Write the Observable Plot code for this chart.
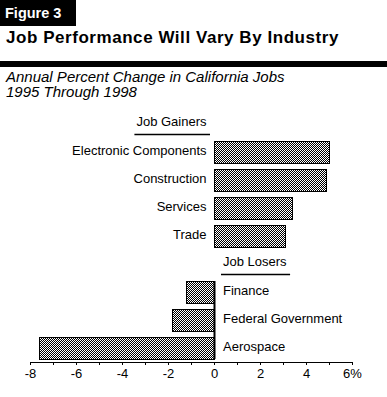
<!DOCTYPE html>
<html>
<head>
<meta charset="utf-8">
<script src="https://cdn.jsdelivr.net/npm/d3@7"></script>
<script src="https://cdn.jsdelivr.net/npm/@observablehq/plot@0.6"></script>
<style>
  html, body { margin: 0; padding: 0; background: #fff; }
  body { width: 387px; height: 397px; overflow: hidden; font-family: "Liberation Sans", Arial, sans-serif; color: #000; }
  #head { position: relative; width: 387px; height: 105px; }
  #fig { position: absolute; left: 0; top: 0; width: 71px; height: 26px; padding-left: 5px; background: #000; color: #fff;
         font-weight: bold; font-size: 14.5px; line-height: 26px; }
  #title { position: absolute; left: 6px; top: 28px; font-weight: bold; font-size: 17px; line-height: 20px; letter-spacing: 0.55px; white-space: nowrap; }
  #bar { position: absolute; left: 0; top: 61px; width: 387px; height: 6px; background: #000; }
  #sub { position: absolute; left: 6px; top: 68.5px; font-style: italic; font-size: 15px; line-height: 15.6px; white-space: nowrap; }
  #chart svg { display: block; }
</style>
</head>
<body>
<div id="head">
  <div id="fig">Figure 3</div>
  <div id="title">Job Performance Will Vary By Industry</div>
  <div id="bar"></div>
  <div id="sub">Annual Percent Change in California Jobs<br>1995 Through 1998</div>
</div>
<div id="chart"></div>
<script>
// ---- data ----
const gainerNames = ["Electronic Components", "Construction", "Services", "Trade"];
const gainerValues = [5.0, 4.9, 3.4, 3.1];
const loserNames = ["Finance", "Federal Government", "Aerospace"];
const loserValues = [-1.2, -1.8, -7.6];
const groupHeaders = ["Job Gainers", "Job Losers"];
const xTicks = [-8, -7, -6, -5, -4, -3, -2, -1, 0, 1, 2, 3, 4, 5, 6];
const xTickLabels = {"-8": "-8", "-6": "-6", "-4": "-4", "-2": "-2", "0": "0", "2": "2", "4": "4", "6": "6%"};

// ---- tables ----
const gainers = gainerNames.map((name, i) => ({name, value: gainerValues[i]}));
const losers = loserNames.map((name, i) => ({name, value: loserValues[i]}));
const rows = [groupHeaders[0], ...gainerNames, groupHeaders[1], ...loserNames];

const font = "'Liberation Sans', Arial, sans-serif";

const patternDefs = () => {
  const ns = "http://www.w3.org/2000/svg";
  const defs = document.createElementNS(ns, "defs");
  const pat = document.createElementNS(ns, "pattern");
  pat.setAttribute("id", "hatch");
  pat.setAttribute("patternUnits", "userSpaceOnUse");
  pat.setAttribute("width", "2");
  pat.setAttribute("height", "2");
  const bg = document.createElementNS(ns, "rect");
  bg.setAttribute("width", "2"); bg.setAttribute("height", "2"); bg.setAttribute("fill", "#fff");
  const a = document.createElementNS(ns, "rect");
  a.setAttribute("x", "0"); a.setAttribute("y", "0"); a.setAttribute("width", "1"); a.setAttribute("height", "1"); a.setAttribute("fill", "#000");
  const b = document.createElementNS(ns, "rect");
  b.setAttribute("x", "1"); b.setAttribute("y", "1"); b.setAttribute("width", "1"); b.setAttribute("height", "1"); b.setAttribute("fill", "#000");
  pat.append(bg, a, b);
  defs.append(pat);
  return defs;
};

const chart = Plot.plot({
  width: 387,
  height: 292,
  marginLeft: 30,
  marginRight: 35,
  marginTop: 5,
  marginBottom: 35,
  style: {fontFamily: font, fontSize: "13px", color: "#000", background: "#fff"},
  x: {domain: [-8, 6]},
  y: {domain: rows, paddingInner: 0.2, paddingOuter: 0.1, axis: null},
  marks: [
    patternDefs,
    Plot.barX(gainers, {x: "value", y: "name", fill: "url(#hatch)", stroke: "#000", strokeWidth: 1, shapeRendering: "crispEdges"}),
    Plot.barX(losers, {x: "value", y: "name", fill: "url(#hatch)", stroke: "#000", strokeWidth: 1, shapeRendering: "crispEdges"}),
    Plot.ruleX([0], {y1: () => loserNames[0], y2: () => loserNames[loserNames.length - 1], stroke: "#000", strokeWidth: 2}),
    Plot.text(gainers, {x: 0, y: "name", text: "name", textAnchor: "end", dx: -8, dy: -1.5, fontSize: 13, fill: "#000"}),
    Plot.text(losers, {x: 0, y: "name", text: "name", textAnchor: "start", dx: 8.5, dy: -1.5, fontSize: 13, fill: "#000"}),
    Plot.text([groupHeaders[0]], {x: 0, y: d => d, text: d => d, textAnchor: "end", dx: -8, dy: -2.5, fontSize: 13, fill: "#000"}),
    Plot.text([groupHeaders[1]], {x: 0, y: d => d, text: d => d, textAnchor: "start", dx: 8.5, dy: -2.5, fontSize: 13, fill: "#000"}),
    Plot.frame({anchor: "bottom", stroke: "#000"}),
    Plot.axisX({ticks: xTicks, tickSize: 3, tickPadding: 3, label: null, stroke: "#000",
                tickFormat: d => xTickLabels[String(d)] ?? "", fontSize: 13})
  ]
});
document.getElementById("chart").append(chart);

// underline the group headers (measured from the rendered text)
const svgRect = chart.getBoundingClientRect();
d3.select(chart).selectAll("text").each(function () {
  if (groupHeaders.includes(this.textContent)) {
    const r = this.getBoundingClientRect();
    const left = r.left - svgRect.left;
    const right = r.right - svgRect.left;
    const y = Math.round(r.bottom - svgRect.top + 4.5) + 0.5;
    d3.select(chart).append("line")
      .attr("x1", left - 2).attr("x2", right + 3)
      .attr("y1", y).attr("y2", y)
      .attr("stroke", "#000").attr("stroke-width", 1.3);
  }
});
</script>
</body>
</html>
